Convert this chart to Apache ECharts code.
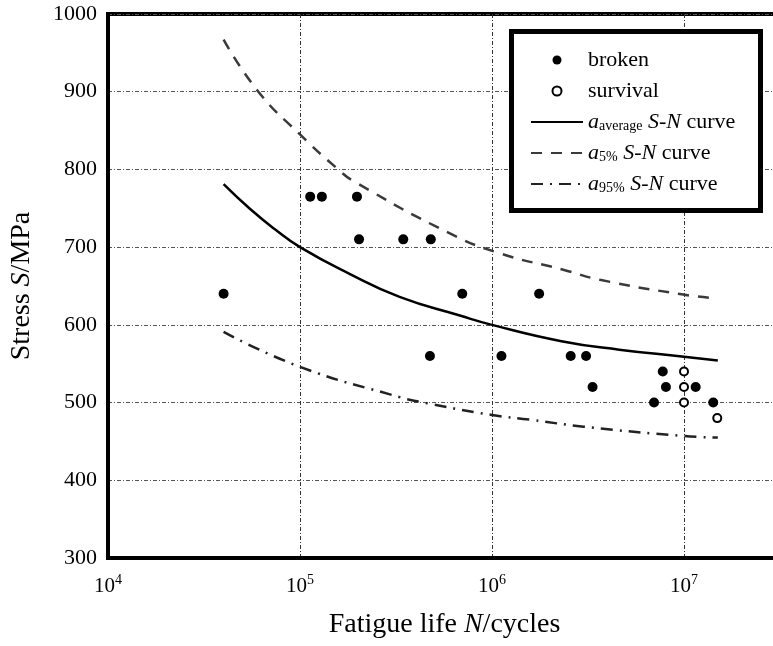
<!DOCTYPE html>
<html>
<head>
<meta charset="utf-8">
<script src="https://cdn.jsdelivr.net/npm/echarts@6/dist/echarts.min.js"></script>
<style>
  html, body { margin: 0; padding: 0; background: #fff; }
  #chart { width: 773px; height: 646px; }
</style>
</head>
<body>
<div id="chart"></div>
<script>
// 试验点 broken
var brokenN = [4.0e4, 1.13e5, 1.30e5, 1.98e5, 2.03e5, 3.45e5, 4.8e5, 4.75e5, 7.0e5, 1.12e6, 1.76e6, 2.57e6, 3.09e6, 3.34e6, 6.98e6, 7.75e6, 8.05e6, 1.15e7, 1.42e7];
var brokenS = [640, 765, 765, 765, 710, 710, 710, 560, 640, 560, 640, 560, 560, 520, 500, 540, 520, 520, 500];
// 试验点 survival
var survN = [1.0e7, 1.0e7, 1.0e7, 1.49e7];
var survS = [540, 520, 500, 480];
// S-N 曲线
var avgN = [4.0e4, 5.5e4, 7.4e4, 1.0e5, 1.8e5, 3.3e5, 6.8e5, 1.0e6, 2.3e6, 4.6e6, 1.0e7, 1.5e7];
var avgS = [781, 749, 723, 700, 666, 636, 612, 600, 579, 568, 559, 554];
var p5N = [4.0e4, 6.07e4, 1.0e5, 1.58e5, 1.9e5, 6.0e5, 1.1e6, 2.35e6, 3.65e6, 9.9e6, 1.5e7];
var p5S = [967, 900, 845, 800, 785, 718, 692, 671, 658, 639, 634];
var p95N = [4.0e4, 1.0e5, 3.3e5, 4.2e5, 1.0e6, 1.58e6, 3.0e6, 1.0e7, 1.5e7];
var p95S = [591, 546, 507, 501, 484, 478, 469, 457, 455];
var yTicks = [300, 400, 500, 600, 700, 800, 900, 1000];

function pairs(xs, ys) {
  return xs.map(function(x, i) { return [x, ys[i]]; });
}

var font = "Liberation Serif";
var legendNames = {
  broken: "broken",
  survival: "survival",
  avg: "{i|a}{sub|average} {i|S}-{i|N} curve",
  p5: "{i|a}{sub|5%} {i|S}-{i|N} curve",
  p95: "{i|a}{sub|95%} {i|S}-{i|N} curve"
};
// 图例里线条不要中间的点
var noDot = { opacity: 0 };

var myChart = echarts.init(document.getElementById("chart"));
var option = {
  animation: false,
  backgroundColor: "#fff",
  grid: {
    left: 108,
    top: 14,
    width: 673,
    bottom: 88,
    outerBoundsMode: "none",
    show: true,
    borderColor: "#000",
    borderWidth: 4
  },
  graphic: [
    {
      type: "rect",
      z: 90,
      shape: { x: 511.5, y: 31.5, width: 249, height: 179 },
      style: { fill: "#fff", stroke: "#000", lineWidth: 5 }
    }
  ],
  legend: {
    orient: "vertical",
    left: 530,
    top: 49,
    padding: 0,
    itemWidth: 52,
    itemHeight: 9,
    itemGap: 9,
    z: 100,
    data: [
      "broken",
      "survival",
      { name: "avg", itemStyle: noDot },
      { name: "p5", itemStyle: noDot },
      { name: "p95", itemStyle: noDot }
    ],
    formatter: function(name) {
      return legendNames[name];
    },
    textStyle: {
      fontFamily: font,
      fontSize: 22,
      color: "#000",
      lineHeight: 22,
      rich: {
        i: { fontFamily: font, fontSize: 22, fontStyle: "italic", lineHeight: 22, color: "#000" },
        sub: { fontFamily: font, fontSize: 14, lineHeight: 10, verticalAlign: "bottom", color: "#000" }
      }
    }
  },
  xAxis: {
    type: "log",
    logBase: 10,
    min: 1e4,
    max: 3.2e7,
    name: "{t|Fatigue life }{i|N}{t|/cycles}",
    nameLocation: "middle",
    nameGap: 53,
    nameTextStyle: {
      rich: {
        t: { fontFamily: font, fontSize: 28, color: "#000" },
        i: { fontFamily: font, fontSize: 28, fontStyle: "italic", color: "#000" }
      }
    },
    axisLine: { show: true, onZero: false, lineStyle: { color: "#000", width: 4 } },
    axisTick: { show: false },
    axisLabel: {
      margin: 15,
      formatter: function(v) {
        var e = Math.round(Math.log10(v));
        if (Math.abs(Math.log10(v) - e) > 1e-6 || e > 7) return "";
        return "{a|10}{b|" + e + "}";
      },
      rich: {
        a: { fontFamily: font, fontSize: 21, lineHeight: 24, verticalAlign: "bottom", color: "#000" },
        b: { fontFamily: font, fontSize: 14, lineHeight: 16, verticalAlign: "top", color: "#000" }
      }
    },
    splitLine: {
      show: true,
      lineStyle: { color: "#333", width: 1, type: [4, 2, 1, 2] }
    }
  },
  yAxis: {
    type: "value",
    min: yTicks[0],
    max: yTicks[yTicks.length - 1],
    interval: 100,
    name: "{t|Stress }{i|S}{t|/MPa}",
    nameLocation: "middle",
    nameGap: 72,
    nameTextStyle: {
      rich: {
        t: { fontFamily: font, fontSize: 28, color: "#000" },
        i: { fontFamily: font, fontSize: 28, fontStyle: "italic", color: "#000" }
      }
    },
    axisLine: { show: true, lineStyle: { color: "#000", width: 4 } },
    axisTick: { show: false },
    axisLabel: {
      margin: 11,
      fontFamily: font,
      fontSize: 22,
      color: "#000",
      formatter: function(v) {
        return String(v);
      }
    },
    splitLine: {
      show: true,
      lineStyle: { color: "#555", width: 1, type: [4, 2, 1, 2] }
    }
  },
  series: [
    {
      name: "avg",
      type: "line",
      smooth: true,
      symbol: "none",
      z: 3,
      color: "#000",
      lineStyle: { color: "#000", width: 2.5 },
      data: pairs(avgN, avgS)
    },
    {
      name: "p5",
      type: "line",
      smooth: true,
      symbol: "none",
      z: 3,
      color: "#3a3a3a",
      lineStyle: { color: "#3a3a3a", width: 2.5, type: [11, 9] },
      data: pairs(p5N, p5S)
    },
    {
      name: "p95",
      type: "line",
      smooth: true,
      symbol: "none",
      z: 3,
      color: "#222",
      lineStyle: { color: "#222", width: 2.5, type: [12, 7, 2, 7] },
      data: pairs(p95N, p95S)
    },
    {
      name: "broken",
      type: "scatter",
      symbol: "circle",
      symbolSize: 10,
      z: 5,
      itemStyle: { color: "#000", opacity: 1 },
      data: pairs(brokenN, brokenS)
    },
    {
      name: "survival",
      type: "scatter",
      symbol: "circle",
      symbolSize: 8,
      z: 5,
      itemStyle: { color: "#fff", borderColor: "#000", borderWidth: 2, opacity: 1 },
      data: pairs(survN, survS)
    }
  ]
};
myChart.setOption(option, true);
</script>
</body>
</html>
